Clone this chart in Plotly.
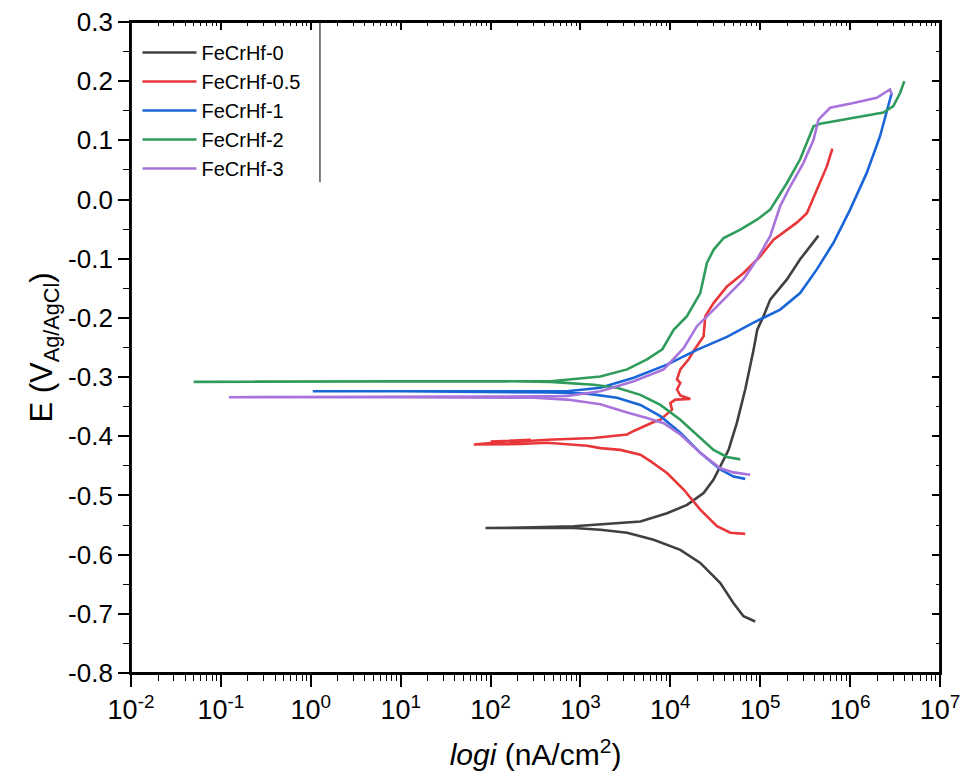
import numpy as np
import plotly.graph_objects as go

# ---------------- data (log10 of current density in nA/cm2, potential in V) ----------------
names = ["FeCrHf-0", "FeCrHf-0.5", "FeCrHf-1", "FeCrHf-2", "FeCrHf-3"]
colors = ["#404040", "#e8373a", "#1a66d9", "#2f9c5c", "#a874dc"]

logi_0 = [4.944, 4.814, 4.703, 4.556, 4.333, 4.111, 3.814, 3.519, 3.222, 2.926, 2.481, 1.944,
          2.481, 2.926, 3.667, 3.963, 4.186, 4.370, 4.481, 4.556, 4.648, 4.741, 4.833, 4.926,
          4.967, 5.037, 5.111, 5.297, 5.444, 5.648]
E_0 = [-0.713, -0.704, -0.682, -0.648, -0.614, -0.592, -0.575, -0.563, -0.558, -0.555, -0.555, -0.555,
       -0.554, -0.552, -0.544, -0.530, -0.516, -0.496, -0.473, -0.451, -0.423, -0.377, -0.321, -0.254,
       -0.220, -0.197, -0.169, -0.135, -0.101, -0.061]

logi_05 = [4.833, 4.667, 4.519, 4.333, 4.148, 3.963, 3.778, 3.667, 3.444, 3.222, 3.074, 2.630, 2.333,
           2.037, 1.814, 2.333, 2.000, 2.444, 2.111, 2.630, 3.148, 3.519, 3.593, 3.704, 3.815, 3.889,
           3.963, 4.019, 4.000, 4.056, 4.222, 4.111, 4.074, 4.111, 4.074, 4.111, 4.204, 4.259, 4.370,
           4.389, 4.481, 4.630, 4.815, 5.000, 5.148, 5.407, 5.519, 5.630, 5.741, 5.803]
E_05 = [-0.565, -0.563, -0.552, -0.524, -0.490, -0.462, -0.442, -0.431, -0.423, -0.420, -0.416, -0.411,
        -0.413, -0.414, -0.414, -0.407, -0.409, -0.406, -0.411, -0.406, -0.403, -0.397, -0.391, -0.383,
        -0.376, -0.372, -0.363, -0.355, -0.344, -0.338, -0.337, -0.331, -0.321, -0.310, -0.304, -0.287,
        -0.270, -0.256, -0.231, -0.197, -0.175, -0.147, -0.124, -0.096, -0.068, -0.039, -0.023, 0.017,
        0.056, 0.086]

logi_1 = [4.833, 4.703, 4.556, 4.333, 4.111, 3.889, 3.667, 3.407, 3.074, 2.667, 1.000, 0.022,
          1.000, 2.852, 3.222, 3.593, 3.963, 4.296, 4.630, 4.926, 5.222, 5.444, 5.630, 5.815, 6.000,
          6.185, 6.333, 6.407, 6.463]
E_1 = [-0.472, -0.468, -0.456, -0.428, -0.394, -0.366, -0.347, -0.335, -0.328, -0.326, -0.324, -0.324,
       -0.324, -0.324, -0.318, -0.301, -0.279, -0.254, -0.232, -0.208, -0.186, -0.158, -0.118, -0.073,
       -0.017, 0.045, 0.107, 0.147, 0.180]

logi_2 = [4.778, 4.630, 4.481, 4.296, 4.111, 3.889, 3.667, 3.407, 3.148, 2.667, 2.111, 1.000, -1.303,
          1.000, 2.667, 3.222, 3.519, 3.741, 3.911, 4.037, 4.185, 4.333, 4.407, 4.481, 4.593, 4.778,
          4.963, 5.111, 5.185, 5.297, 5.444, 5.593, 5.667, 5.889, 6.185, 6.370, 6.481, 6.556, 6.603]
E_2 = [-0.439, -0.435, -0.423, -0.397, -0.372, -0.347, -0.330, -0.318, -0.313, -0.308, -0.307, -0.307, -0.308,
       -0.307, -0.307, -0.299, -0.287, -0.270, -0.253, -0.220, -0.197, -0.158, -0.107, -0.085, -0.065, -0.051,
       -0.034, -0.017, 0.000, 0.028, 0.068, 0.124, 0.128, 0.134, 0.141, 0.147, 0.158, 0.180, 0.200]

logi_3 = [4.889, 4.703, 4.556, 4.333, 4.111, 3.926, 3.741, 3.519, 3.222, 2.852, 2.481, 1.000, -0.911,
          1.000, 2.111, 2.852, 3.222, 3.593, 3.926, 4.148, 4.296, 4.444, 4.630, 4.815, 4.963, 5.111,
          5.222, 5.333, 5.481, 5.593, 5.648, 5.778, 6.037, 6.296, 6.444, 6.463]
E_3 = [-0.465, -0.461, -0.454, -0.428, -0.397, -0.378, -0.369, -0.360, -0.346, -0.338, -0.335, -0.334, -0.334,
       -0.334, -0.333, -0.332, -0.324, -0.307, -0.287, -0.251, -0.214, -0.192, -0.164, -0.135, -0.101, -0.062,
       -0.011, 0.022, 0.062, 0.101, 0.135, 0.155, 0.163, 0.172, 0.186, 0.177]

x_tick_exp = [-2, -1, 0, 1, 2, 3, 4, 5, 6, 7]
x_tick_text = ["10<sup>%d</sup>" % k for k in x_tick_exp]
y_tick_vals = [0.3, 0.2, 0.1, 0.0, -0.1, -0.2, -0.3, -0.4, -0.5, -0.6, -0.7, -0.8]
y_tick_text = ["0.3", "0.2", "0.1", "0.0", "-0.1", "-0.2", "-0.3", "-0.4", "-0.5", "-0.6", "-0.7", "-0.8"]

series_logi = [logi_0, logi_05, logi_1, logi_2, logi_3]
series_E = [E_0, E_05, E_1, E_2, E_3]

# ---------------- figure ----------------
FONT = "Liberation Sans, Arial, sans-serif"
fig = go.Figure()
for name, lg, e, col in zip(names, series_logi, series_E, colors):
    fig.add_trace(go.Scatter(x=np.power(10.0, lg), y=e, mode="lines", name=name,
                             line=dict(color=col, width=2.6)))

# invisible trace to carry the mirrored (inside-tick) top/right axes
fig.add_trace(go.Scatter(x=[None], y=[None], xaxis="x2", yaxis="y2",
                         showlegend=False, hoverinfo="skip"))

xtv = [10.0 ** k for k in x_tick_exp]
common_font = dict(family=FONT, color="black")

fig.update_layout(
    width=970, height=781,
    margin=dict(l=131, r=30, t=22, b=108),
    paper_bgcolor="white", plot_bgcolor="white",
    font=dict(family=FONT, color="black"),
    xaxis=dict(type="log", range=[-2, 7], tickmode="array", tickvals=xtv, ticktext=x_tick_text,
               ticks="outside", ticklen=12, tickwidth=1.6, tickcolor="black", automargin=False,
               ticklabeloverflow="allow",
               showline=True, linecolor="black", linewidth=1.8, showgrid=False, zeroline=False,
               minor=dict(ticks="outside", ticklen=6, tickwidth=1.3, tickcolor="black",
                          dtick="D1", showgrid=False),
               tickfont=dict(size=27, **common_font),
               title=dict(text="<i>logi</i> (nA/cm<sup>2</sup>)", font=dict(size=30, **common_font),
                          standoff=20)),
    xaxis2=dict(type="log", range=[-2, 7], overlaying="x", side="top", anchor="y2", automargin=False,
                tickmode="array", tickvals=xtv, showticklabels=False,
                ticks="inside", ticklen=8, tickwidth=1.6, tickcolor="black",
                showline=True, linecolor="black", linewidth=1.8, showgrid=False, zeroline=False,
                minor=dict(ticks="inside", ticklen=4, tickwidth=1.3, tickcolor="black",
                           dtick="D1", showgrid=False)),
    yaxis=dict(range=[-0.8, 0.3], tickmode="array", tickvals=y_tick_vals, ticktext=y_tick_text,
               ticks="outside", ticklen=11, tickwidth=1.6, tickcolor="black", automargin=False,
               ticklabeloverflow="allow",
               showline=True, linecolor="black", linewidth=1.8, showgrid=False, zeroline=False,
               minor=dict(ticks="outside", ticklen=6, tickwidth=1.3, tickcolor="black",
                          tick0=-0.8, dtick=0.05, showgrid=False),
               tickfont=dict(size=26, **common_font),
               title=dict(text="E (V<sub>Ag/AgCl</sub>)", font=dict(size=31, **common_font),
                          standoff=6)),
    yaxis2=dict(range=[-0.8, 0.3], overlaying="y", side="right", anchor="x2", automargin=False,
                tickmode="array", tickvals=y_tick_vals, showticklabels=False,
                ticks="inside", ticklen=8, tickwidth=1.6, tickcolor="black",
                showline=True, linecolor="black", linewidth=1.8, showgrid=False, zeroline=False,
                minor=dict(ticks="inside", ticklen=4, tickwidth=1.3, tickcolor="black",
                           tick0=-0.8, dtick=0.05, showgrid=False)),
    legend=dict(x=0.008, y=0.983, xanchor="left", yanchor="top",
                font=dict(size=20, **common_font), bgcolor="rgba(0,0,0,0)",
                borderwidth=0, tracegroupgap=0, itemwidth=54),
    showlegend=True,
    shapes=[
        dict(type="rect", xref="paper", yref="paper", x0=0, x1=1, y0=0, y1=1,
             line=dict(color="black", width=1.8), layer="above"),
        dict(type="line", xref="paper", yref="paper", x0=0.2336, x1=0.2336, y0=1.0, y1=0.754,
             line=dict(color="black", width=1)),
    ],
)

# remove the browser's default 8px page margin so the figure fills the window exactly
fig.write_html("out.html", config={"displayModeBar": False},
               post_script="document.body.style.margin='0';document.body.style.overflow='hidden';")
